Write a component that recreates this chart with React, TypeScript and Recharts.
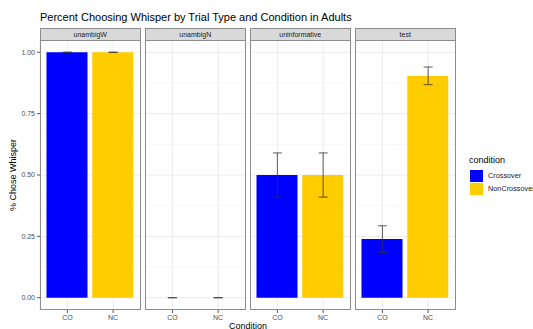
import React from 'react';
import { ComposedChart, Bar, Line, XAxis, YAxis, CartesianGrid, ErrorBar, Cell } from 'recharts';

const panelNames = ['unambigW', 'unambigN', 'uninformative', 'test'];
const categories = ['CO', 'NC'];
const legendLabels = ['Crossover', 'NonCrossover'];
const barColors = ['#0000FF', '#FFCC00'];
const coValues = [1.0, 0.0, 0.5, 0.239];
const ncValues = [1.0, 0.0, 0.5, 0.903];
const coLow = [1.0, 0.0, 0.41, 0.185];
const coHigh = [1.0, 0.0, 0.59, 0.293];
const ncLow = [1.0, 0.0, 0.41, 0.868];
const ncHigh = [1.0, 0.0, 0.59, 0.94];
const yTicks = [0, 0.25, 0.5, 0.75, 1];
const yMinor = [0.125, 0.375, 0.625, 0.875];

const FONT = '"Liberation Sans", Arial, Helvetica, sans-serif';
const PLOT_TOP = 40;
const PLOT_H = 270;
const PANEL_W = 100.5;
const PANEL_STEP = 105;
const FIRST_LEFT = 40;
const AXIS_W = 40;
const BORDER = '#8c8c8c';

function panelData(i: number) {
  const vals = [coValues[i], ncValues[i]];
  const lows = [coLow[i], ncLow[i]];
  const highs = [coHigh[i], ncHigh[i]];
  return categories.map((c, k) => ({
    cond: c,
    value: vals[k],
    err: [vals[k] - lows[k], highs[k] - vals[k]],
  }));
}

function Panel({ i }: { i: number }) {
  const first = i === 0;
  const left = FIRST_LEFT + PANEL_STEP * i - (first ? AXIS_W : 0);
  const width = PANEL_W + (first ? AXIS_W : 0);
  const data = panelData(i);
  return (
    <div style={{ position: 'absolute', left, top: PLOT_TOP, width, height: PLOT_H + 22 }}>
      <ComposedChart width={width} height={PLOT_H + 22} data={data} margin={{ top: 0, right: 0, bottom: 0, left: 0 }}>
        <CartesianGrid horizontalValues={yMinor} vertical={false} stroke="#f4f4f4" strokeWidth={0.6} />
        <CartesianGrid horizontalValues={yTicks} stroke="#ebebeb" strokeWidth={1} />
        <XAxis
          dataKey="cond"
          type="category"
          height={22}
          padding={{ left: 4.5, right: 4.5 }}
          axisLine={false}
          tickLine={{ stroke: '#555' }}
          tickSize={3}
          tick={{ fontSize: 7, fill: '#4d4d4d', fontFamily: FONT }}
          interval={0}
        />
        <YAxis
          type="number"
          domain={[-0.05, 1.05]}
          allowDataOverflow
          ticks={yTicks}
          hide={!first}
          width={AXIS_W}
          axisLine={false}
          tickLine={{ stroke: '#555' }}
          tickSize={3}
          tick={{ fontSize: 7, fill: '#4d4d4d', fontFamily: FONT }}
          tickFormatter={(v: number) => v.toFixed(2)}
        />
        <Bar dataKey="value" barSize={41} isAnimationActive={false}>
          {data.map((d, k) => (
            <Cell key={d.cond} fill={barColors[k]} />
          ))}
        </Bar>
        <Line
          dataKey="value"
          stroke="none"
          dot={false}
          activeDot={false}
          isAnimationActive={false}
          legendType="none"
        >
          <ErrorBar dataKey="err" width={4.5} stroke="#333" strokeWidth={0.8} direction="y" />
        </Line>
      </ComposedChart>
    </div>
  );
}

export default function App() {
  return (
    <div
      style={{
        position: 'absolute',
        left: 0,
        top: 0,
        width: 533,
        height: 329,
        overflow: 'hidden',
        background: '#fff',
        fontFamily: FONT,
      }}
    >
      <div style={{ position: 'absolute', left: 40, top: 12.4, fontSize: 11, lineHeight: '11px', color: '#000', whiteSpace: 'nowrap' }}>
        Percent Choosing Whisper by Trial Type and Condition in Adults
      </div>

      {panelNames.map((_, i) => (
        <Panel key={i} i={i} />
      ))}

      {panelNames.map((name, i) => {
        const left = FIRST_LEFT + PANEL_STEP * i;
        return (
          <React.Fragment key={name}>
            <div
              style={{
                position: 'absolute',
                left,
                top: PLOT_TOP,
                width: PANEL_W,
                height: PLOT_H,
                border: `1px solid ${BORDER}`,
                boxSizing: 'border-box',
                pointerEvents: 'none',
              }}
            />
            <div
              style={{
                position: 'absolute',
                left,
                top: 28,
                width: PANEL_W,
                height: 13,
                border: `1px solid ${BORDER}`,
                boxSizing: 'border-box',
                background: '#d9d9d9',
                fontSize: 7,
                lineHeight: '11px',
                textAlign: 'center',
                color: '#1a1a1a',
              }}
            >
              {name}
            </div>
          </React.Fragment>
        );
      })}

      <div
        style={{
          position: 'absolute',
          left: 13.3 - 50,
          top: 175 - 6,
          width: 100,
          height: 12,
          fontSize: 9,
          lineHeight: '12px',
          textAlign: 'center',
          transform: 'rotate(-90deg)',
          color: '#000',
          whiteSpace: 'nowrap',
        }}
      >
        % Chose Whisper
      </div>

      <div
        style={{
          position: 'absolute',
          left: 198,
          top: 319.5,
          width: 100,
          fontSize: 9,
          lineHeight: '12px',
          textAlign: 'center',
          color: '#000',
        }}
      >
        Condition
      </div>

      <div style={{ position: 'absolute', left: 469, top: 154, fontSize: 9, lineHeight: '12px', color: '#000' }}>condition</div>
      {legendLabels.map((lab, k) => (
        <React.Fragment key={lab}>
          <div
            style={{
              position: 'absolute',
              left: 470,
              top: 169.5 + 13 * k,
              width: 12.5,
              height: 12,
              background: barColors[k],
            }}
          />
          <div
            style={{
              position: 'absolute',
              left: 488,
              top: 169.5 + 13 * k,
              fontSize: 7.3,
              lineHeight: '12px',
              color: '#1a1a1a',
              whiteSpace: 'nowrap',
            }}
          >
            {lab}
          </div>
        </React.Fragment>
      ))}
    </div>
  );
}
